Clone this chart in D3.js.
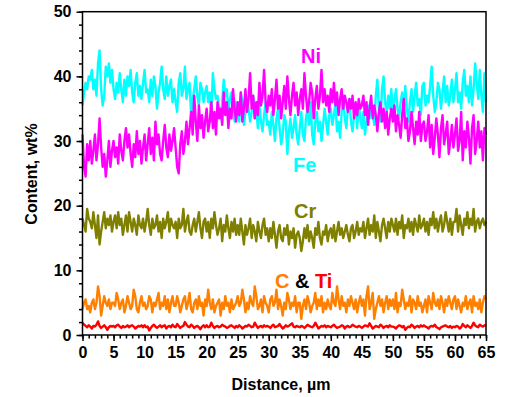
<!DOCTYPE html>
<html><head><meta charset="utf-8">
<script src="https://cdn.jsdelivr.net/npm/d3@7"></script>
<style>body{margin:0;background:#fff}svg{display:block}text{font-family:"Liberation Sans",Arial,sans-serif;font-weight:bold}</style>
</head><body><svg id="c" width="510" height="397"></svg>
<script>
const xMax = 65; // µm, samples evenly spaced from 0 to xMax
const Fe = [35.5,37.5,39,38,40,39.5,41,38,39.5,37,42,44,38,35.5,37,41.5,40,42,39,41,
 38,36.5,39,37.5,40.5,38,36,39.5,37,40,38.5,41,37.5,36,39,40.5,37,38.5,36.5,39,
 41,37.5,38,36,39.5,37,40,38.5,35,37.5,39,41.5,38,36.5,40,37,38.5,39.5,36,38,
 36,34.5,39,40.5,37,38,41.5,36.5,38,39,34,36.5,38,40,37,35.5,39,38,36,37.5,
 38.5,36,37.5,34,40.5,38,36.5,37,35,33.5,36,39.5,37,38,34.5,36.5,37.5,35,33,36,
 35,33,37.5,36,32.5,34.5,36,35,33,34.5,37,33.5,35,32,35.5,33,31.5,34,36,32.5,
 33,31,34.5,32.5,30,33.5,35,32,29.5,31,34,33,28,31.5,33.5,30.5,32,34,31,29.5,
 32,34.5,31,30,33.5,35,32.5,36,31,29.5,33,34.5,31.5,33,30,32.5,35,33,31,34,
 35,32.5,34,36,31.5,33,30.5,34.5,37,33.5,32,35,36.5,33,31.5,34,35.5,32,36,33.5,
 32,34.5,31,33,35.5,33.5,36,34,32.5,37,39.5,35,33,38,40,36,34.5,37,35,38,
 34,36.5,38,35,33.5,36,37.5,34.5,38.5,35,33,36,38,34.5,37,39,35.5,36.5,34,38.5,
 39,35.5,37,36,38.5,41.5,37,34.5,36,39,38,35,37.5,40,36,38.5,35.5,37,39.5,36,
 38,40.5,36,37.5,35,39,41,37,38.5,36,40,35.5,38,42,39,36.5,41,37,34.5,40.5,36];
const Ni = [31,26,24.5,29.5,27,30,26.5,28.5,31,27,29.5,33.5,29,26,28,24.5,27,30,26,28.5,
 30,27.5,29,26.5,31,28.5,27,30,32,29,31,28,26,29.5,27.5,31.5,28,30,26.5,29,
 31,27,29.5,32,28,30.5,27,33,29.5,31,28,27,30,32.5,29,27.5,31,28.5,30,32,
 29,26,25,29.5,31.5,28,30,33,29.5,32,34.5,31,37,33,30,35.5,32,34,30.5,33,
 35,31.5,33,36,32,34.5,31,36,33.5,35,32.5,37.5,34,36,32,35,33.5,38,35,33,
 36,34,37.5,33,35,38,34.5,36.5,40.5,35,37,33.5,36,34,39,35.5,37,41,36,34.5,
 37,35.5,38,34,36.5,39.5,35,37,33.5,36,38.5,35,40,36.5,34,37,39,35.5,37.5,34,
 36.5,38,35,40.5,37,34.5,36,39,37.5,33.5,36.5,38.5,35,37,41,36,38,35.5,37,34.5,
 38,36,39,35.5,37.5,34,36.5,38,35,37,36,34.5,36.5,35,37,33.5,36,34,36.5,35,
 35.5,37,34,36,32.5,35,37,33.5,35.5,34,31.5,34.5,36,33,35,32,34.5,31,33.5,35,
 33,35.5,31.5,34,32.5,30.5,34,36.5,32,33.5,30,31.5,34.5,32,29.5,33,31,34.5,30,32.5,
 33,30,31.5,34,29,32.5,28,30.5,33.5,31,27.5,32,34,29.5,31,33,28,30,32.5,29,
 31,33.5,28.5,30,34.5,27,31.5,29,33,30.5,26.5,32,34,28,30,33,29,31.5,27,32,31];
const Cr = [18,17,16,19.5,18,17.5,16.5,19,17,15,18.5,14,16,17.5,19,16.5,18,17,18.5,16,
 17.5,18.5,16.5,19,17,18,15.5,17,18.5,16,19,17.5,16,18,17,15.5,18.5,17,16.5,18,
 16,17.5,19.5,17,15.5,18,16.5,17,18.5,16,17.5,15,18,16.5,17.5,19,16,18,17,16.5,
 17.5,15,18,16.5,17,19.5,16,17.5,18.5,16,15.5,17,18,16,17.5,19,16.5,15,17.5,18,
 16,17.5,15,18,16.5,19,17,15.5,16.5,18,14.5,17,16,18.5,16.5,15,17.5,16,18,15.5,
 17,15.5,18,16,14,17,15.5,16.5,18,15,17,16,14.5,17.5,16,15,17,18,15.5,16.5,
 14.5,16.5,15,17.5,15.5,13.5,16,17,15,14.5,16.5,15.5,17,14,16,15,16.5,13.5,15.5,16,
 15,13,14.5,16.5,15,17,14.5,16,15,13.5,16.5,15.5,17.5,15,14,16,15.5,17,14.5,16,
 16.5,15,17,14.5,16,17.5,15.5,16.5,15,16,17,15.5,14.5,16.5,17,15,16,17.5,15.5,16.5,
 16,17.5,15,16.5,18,15.5,17,16,18.5,15,17.5,16,14.5,17,18,16.5,15,17.5,16,18,
 17,16,18,15.5,17.5,16.5,18.5,15,17,16.5,18,16,17.5,15.5,18,17,16,18.5,16.5,17,
 18,16,17.5,15.5,18,17,19,16.5,18,16,17.5,18.5,16,17,19,17.5,16,18,15.5,17.5,
 17.5,19.5,16,18.5,17,15.5,18,17,19,16.5,18,17,19.5,16,17.5,18,16.5,17.5,18,17,17.5];
const C = [4,5,5.5,4,4.5,3.5,5,5.5,4,5,7.5,6,3,4.5,6,5,4.5,5.5,4,5,
 5,4.5,6.5,5.5,4,5,5.5,3.5,4.5,6,5,4,4.5,7,6,4,3.5,5,6,4.5,
 5,4,4.5,6,5.5,3.5,5,4.5,5.5,6.5,4,5,4.5,6,4,5.5,3.5,5,6,4.5,
 4.5,6,5,3.5,4.5,5.5,6,4,5,6.5,4,3.5,5,5.5,4,6,4.5,5,3,5.5,
 4.5,7,5,4,5.5,3.5,4.5,5,5.5,3,5,4,6,4.5,5,3.5,5.5,4,4.5,5,
 6,4.5,5,7,5.5,3.5,5,4,6,5,4.5,7.5,6,4,4.5,5.5,3.5,6,5,4.5,
 3.5,5.5,6,4.5,5,7,4,5.5,4.5,3,5,4,6.5,5.5,4,5,4.5,6,3.5,5,
 5,2.5,4.5,5.5,4,6,5,3.5,4.5,5,6.5,4,5.5,4.5,6,3.5,5,4,5.5,4.5,
 4,6.5,5,4.5,7.5,5.5,4,6,4.5,5,3.5,5.5,4.5,6,5,4,5.5,3.5,5,6,
 4.5,5.5,3,6,7.5,4,5,6.5,2.5,4,5,6,4.5,5.5,3.5,5,6,4,5.5,4.5,
 5.5,4,6.5,3.5,5,4.5,7,5.5,4,5,4.5,6,3.5,5.5,5,4,6,4.5,5,3.5,
 4.5,5.5,3.5,6,5,4,6.5,5,4.5,5.5,4,6,5,3.5,5.5,4.5,6,5,4,5.5,
 6,4,5.5,4.5,3.5,5,4.5,6,4,5,5.5,3.5,6,4.5,5,4,5.5,3.5,5,6,5.5];
const Ti = [1.9,1.6,1.4,1.2,1.5,1.3,1.0,1.4,1.3,1.6,2.1,1.4,1.1,1.3,1.5,1.2,0.8,1.2,1.4,1.3,
 1.4,1.2,1.5,1.6,1.3,1.1,1.4,1.2,1.3,1.5,1.2,1.4,1.5,1.3,1.0,1.2,1.4,1.3,1.5,1.2,
 1.5,1.2,1.3,0.7,1.1,1.4,1.6,1.3,1.1,1.3,1.5,1.2,1.4,1.5,1.0,1.3,1.4,1.2,1.6,1.3,
 1.2,1.7,1.4,1.1,1.3,1.4,2.0,1.6,1.3,1.2,1.6,1.4,1.1,1.3,1.4,1.2,0.9,1.3,1.5,1.2,
 1.5,1.2,1.3,1.9,1.4,1.1,1.3,1.4,1.2,1.3,1.6,1.4,1.3,1.1,1.2,1.4,1.5,1.3,1.1,1.4,
 1.2,1.5,1.3,1.0,1.2,1.4,1.3,1.6,1.4,1.2,1.3,1.9,1.5,1.1,1.3,1.4,1.2,1.5,1.3,1.4,
 1.3,1.1,1.4,1.6,1.2,1.3,1.4,1.7,1.3,1.0,1.2,1.5,1.3,1.4,1.6,1.8,1.3,1.2,1.4,1.3,
 1.2,1.4,1.3,1.1,1.3,1.6,1.4,1.3,1.2,1.4,1.9,1.5,1.0,1.2,1.4,1.3,1.5,1.2,1.4,1.3,
 1.2,1.4,1.6,1.3,1.1,1.2,1.3,1.5,1.4,1.0,1.3,1.4,1.2,1.3,1.6,1.4,1.3,1.2,1.4,1.3,
 1.1,1.3,1.5,1.4,1.3,1.8,1.4,1.0,1.2,1.4,1.3,1.2,1.6,1.4,1.1,1.3,1.4,1.2,1.5,1.3,
 1.3,1.2,1.0,1.3,1.5,1.4,1.2,1.4,0.8,1.1,1.3,1.2,1.6,1.4,1.1,1.3,1.4,1.2,1.5,1.3,
 1.5,1.3,1.2,1.0,1.3,1.4,1.3,1.6,1.2,1.1,0.9,1.2,1.3,1.4,1.5,1.3,1.2,1.4,1.1,1.3,
 1.2,1.4,1.3,1.0,1.2,1.7,1.4,1.2,1.5,1.3,1.1,1.4,1.9,1.5,1.3,1.2,1.6,1.4,1.3,1.5,1.4];
const xTicks = [0,5,10,15,20,25,30,35,40,45,50,55,60,65];
const yTicks = [0,10,20,30,40,50];
const series = [
  {name:"Fe", values:Fe, color:"#00FFFF"},
  {name:"Ni", values:Ni, color:"#FF00FF"},
  {name:"Cr", values:Cr, color:"#808000"},
  {name:"C",  values:C,  color:"#FF8000"},
  {name:"Ti", values:Ti, color:"#FF0000"}
];

const svg = d3.select("#c");
const L=82.5, R=486, T=11.7, B=335;
const x = d3.scaleLinear([0,65],[L,R]);
const y = d3.scaleLinear([0,50],[B,T]);

svg.append("g").selectAll("path").data(series).join("path")
  .attr("d", d=>{
    const st = xMax/(d.values.length-1);
    return d3.line().x((v,i)=>x(i*st)).y(v=>y(v))(d.values);
  })
  .attr("fill","none")
  .attr("stroke", d=>d.color).attr("stroke-width",2.4).attr("stroke-linejoin","round");

// frame
svg.append("rect").attr("x",L).attr("y",T).attr("width",R-L).attr("height",B-T)
  .attr("fill","none").attr("stroke","#000").attr("stroke-width",1.5);

// x axis
const xa = svg.append("g").attr("transform",`translate(0,${B})`);
xa.call(d3.axisBottom(x).tickValues(d3.range(0,66,1)).tickSize(3.5).tickFormat(""))
  .call(g=>g.select(".domain").remove());
xa.append("g").call(d3.axisBottom(x).tickValues(xTicks).tickSize(6).tickPadding(5).tickFormat(d3.format("d")))
  .call(g=>g.select(".domain").remove());
xa.selectAll("line").attr("stroke","#000").attr("stroke-width",1.5);
xa.selectAll("text").attr("font-size",16).attr("fill","#000").attr("dy","0.75em");

// y axis
const ya = svg.append("g").attr("transform",`translate(${L},0)`);
ya.call(d3.axisLeft(y).tickValues(d3.range(0,51,2)).tickSize(3.5).tickFormat(""))
  .call(g=>g.select(".domain").remove());
ya.append("g").call(d3.axisLeft(y).tickValues(yTicks).tickSize(6).tickPadding(5).tickFormat(d3.format("d")))
  .call(g=>g.select(".domain").remove());
ya.selectAll("line").attr("stroke","#000").attr("stroke-width",1.5);
ya.selectAll("text").attr("font-size",16).attr("fill","#000");

// axis titles
svg.append("text").attr("x",281).attr("y",390).attr("text-anchor","middle")
  .attr("font-size",16).text("Distance, µm");
svg.append("text").attr("transform","translate(37,174) rotate(-90)").attr("text-anchor","middle")
  .attr("font-size",16).text("Content, wt%");

// series labels
svg.append("text").attr("x",301).attr("y",63).attr("font-size",20).attr("fill","#FF00FF").text("Ni");
svg.append("text").attr("x",293).attr("y",172).attr("font-size",20).attr("fill","#00FFFF").text("Fe");
svg.append("text").attr("x",294).attr("y",218).attr("font-size",20).attr("fill","#808000").text("Cr");
const ct = svg.append("text").attr("x",275).attr("y",288).attr("font-size",20);
ct.append("tspan").attr("fill","#FF8000").text("C");
ct.append("tspan").attr("fill","#000").text(" & ");
ct.append("tspan").attr("fill","#FF0000").text("Ti");
</script></body></html>
